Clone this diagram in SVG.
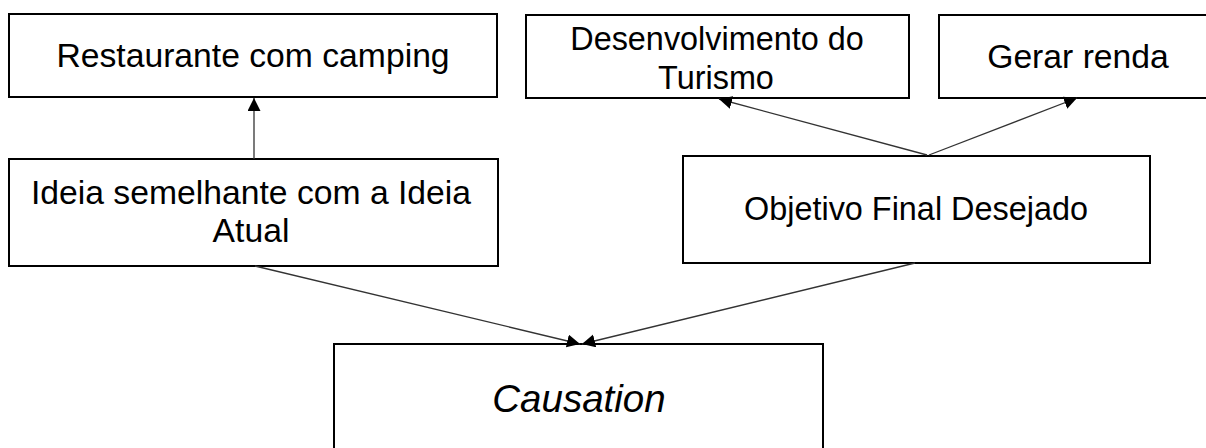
<svg xmlns="http://www.w3.org/2000/svg" width="1206" height="448" viewBox="0 0 1206 448">
  <style>
    .box { fill: #ffffff; stroke: #000000; stroke-width: 2; }
    .label { font-family: "Liberation Sans", Arial, sans-serif; font-size: 33.7px; fill: #000000; text-anchor: middle; }
    .mid { font-size: 32.4px; }
    .big { font-size: 38.5px; font-style: italic; }
    .link { stroke: #333333; stroke-width: 1.3; fill: none; marker-end: url(#arrow); }
  </style>
  <defs>
    <marker id="arrow" markerUnits="userSpaceOnUse" markerWidth="14" markerHeight="14" refX="13" refY="6.5" orient="auto">
      <path d="M0,0 L13,6.5 L0,13 z" fill="#000000"/>
    </marker>
  </defs>
  <rect width="1206" height="448" fill="#ffffff"/>

  <g id="restaurante">
    <rect class="box" x="9" y="14" width="488" height="83"/>
    <text class="label" x="253" y="67">Restaurante com camping</text>
  </g>

  <g id="desenvolvimento">
    <rect class="box" x="526" y="15" width="383" height="83"/>
    <text class="label mid" x="717" y="50">Desenvolvimento do</text>
    <text class="label mid" x="716" y="89">Turismo</text>
  </g>

  <g id="gerar-renda">
    <rect class="box" x="939" y="15" width="270" height="83"/>
    <text class="label" x="1078" y="68">Gerar renda</text>
  </g>

  <g id="ideia">
    <rect class="box" x="9" y="159" width="489" height="107"/>
    <text class="label" x="251" y="204">Ideia semelhante com a Ideia</text>
    <text class="label" x="251" y="242">Atual</text>
  </g>

  <g id="objetivo">
    <rect class="box" x="683" y="156" width="467" height="107"/>
    <text class="label mid" x="916" y="220">Objetivo Final Desejado</text>
  </g>

  <g id="causation">
    <rect class="box" x="334" y="344" width="489" height="120"/>
    <text class="label big" x="579" y="412">Causation</text>
  </g>

  <g id="connectors">
    <line class="link" x1="254" y1="159" x2="254" y2="98"/>
    <line class="link" x1="927" y1="155" x2="719" y2="99"/>
    <line class="link" x1="929" y1="155" x2="1077" y2="98"/>
    <line class="link" x1="255" y1="266" x2="580" y2="344"/>
    <line class="link" x1="915" y1="263" x2="582" y2="344"/>
  </g>
</svg>
